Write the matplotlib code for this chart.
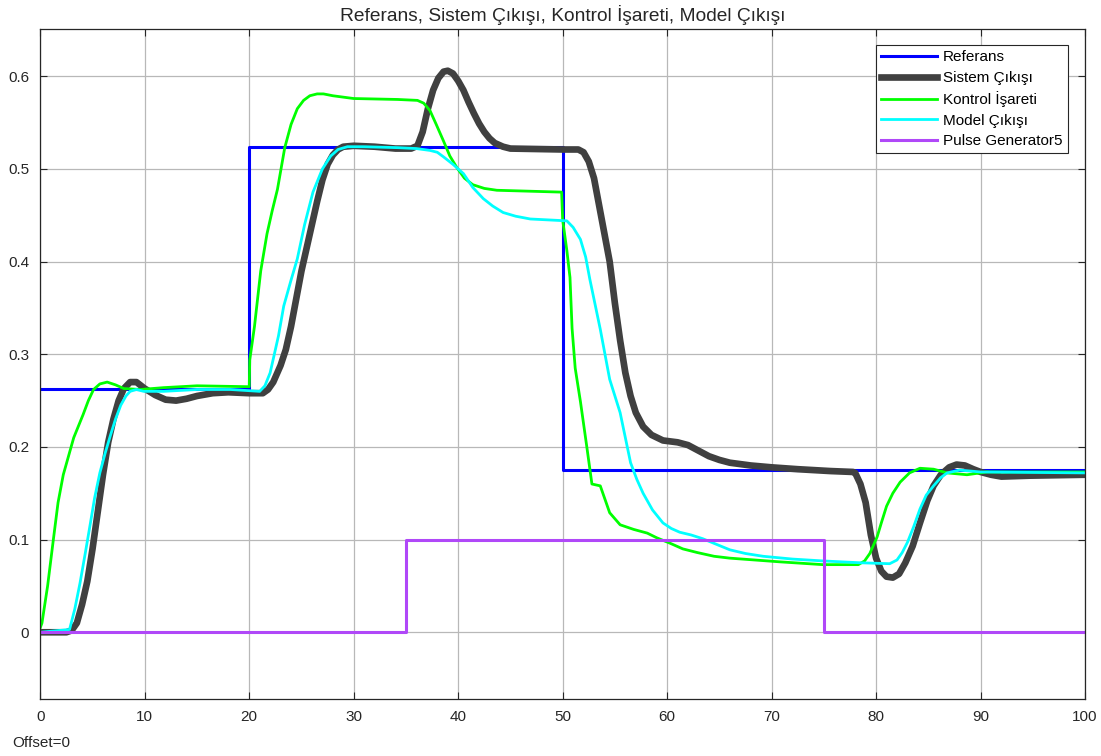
import matplotlib
matplotlib.use("Agg")
import matplotlib.pyplot as plt

plt.rcParams["font.family"] = ["Liberation Sans", "DejaVu Sans"]

# ── data ────────────────────────────────────────────────────────────────────
ref_t = [0, 20, 50, 100]
ref_v = [0.262, 0.524, 0.175, 0.175]

sys_t = [0, 2.5, 3, 3.5, 4, 4.5, 5, 5.5, 6, 6.5, 7, 7.5, 8, 8.6, 9.2, 10, 11,
         12, 13, 14, 15, 16.5, 18, 20, 21.3, 21.8, 22.3, 23, 23.5, 24, 24.5,
         25, 25.5, 26, 26.5, 27, 27.5, 28, 28.5, 29, 30, 32, 34, 35.5, 36.1,
         36.6, 37.1, 37.6, 38.1, 38.6, 39, 39.5, 40, 40.5, 41, 41.5, 42, 42.5,
         43, 43.5, 44.3, 45, 50, 51.5, 52, 52.5, 53, 53.5, 54, 54.5, 55, 55.5,
         56, 56.5, 57, 57.7, 58.5, 59.6, 61, 62, 63, 64, 65, 66, 68, 70, 72.5,
         75.6, 77.8, 78, 78.5, 79, 79.5, 80, 80.5, 81, 81.6, 82.2, 82.8, 83.5,
         84.2, 84.9, 85.5, 86.2, 87, 87.7, 88.5, 89.3, 90, 91, 92, 94.7, 100]
sys_v = [0.0, 0.0, 0.002, 0.01, 0.03, 0.055, 0.09, 0.13, 0.17, 0.205, 0.23,
         0.25, 0.263, 0.27, 0.27, 0.263, 0.256, 0.251, 0.25, 0.252, 0.255,
         0.258, 0.259, 0.258, 0.258, 0.262, 0.27, 0.288, 0.305, 0.33, 0.36,
         0.39, 0.415, 0.44, 0.465, 0.488, 0.505, 0.515, 0.521, 0.524, 0.525,
         0.524, 0.522, 0.522, 0.525, 0.54, 0.565, 0.585, 0.598, 0.605, 0.606,
         0.603, 0.595, 0.585, 0.572, 0.56, 0.549, 0.54, 0.533, 0.528, 0.524,
         0.522, 0.521, 0.521, 0.518, 0.508, 0.49, 0.46, 0.43, 0.40, 0.355,
         0.315, 0.28, 0.255, 0.237, 0.222, 0.213, 0.207, 0.205, 0.202, 0.196,
         0.19, 0.186, 0.183, 0.18, 0.178, 0.176, 0.174, 0.173, 0.172, 0.16,
         0.14, 0.105, 0.08, 0.066, 0.06, 0.059, 0.063, 0.075, 0.093, 0.118,
         0.142, 0.158, 0.17, 0.178, 0.181, 0.18, 0.176, 0.173, 0.17, 0.168,
         0.169, 0.170]

ctl_t = [0, 0.16, 0.7, 1.25, 1.7, 2.2, 2.7, 3.2, 4.1, 4.6, 5.1, 5.7, 6.4, 7.2,
         8, 9.6, 11.8, 15, 20, 20.05, 20.5, 21.1, 21.7, 22.2, 22.7, 23.4, 24,
         24.6, 25.2, 25.8, 26.5, 27.1, 28, 30, 34.2, 36.1, 36.7, 37.3, 37.9,
         38.6, 39.2, 39.9, 40.6, 41.4, 42.5, 43.7, 49.9, 50.0, 50.4, 50.7,
         50.9, 51.2, 51.7, 52.3, 52.8, 53.6, 54.5, 55.5, 56.8, 58.1, 59.0,
         60.3, 61.5, 62.9, 64.5, 66, 70.8, 74.9, 78.3, 78.9, 79.4, 80.1, 80.5,
         81, 81.6, 82.3, 83.2, 84.2, 85.5, 86.8, 88.7, 90.6, 100]
ctl_v = [0.005, 0.01, 0.05, 0.1, 0.14, 0.17, 0.19, 0.21, 0.235, 0.25, 0.262,
         0.268, 0.27, 0.267, 0.263, 0.262, 0.264, 0.266, 0.265, 0.294, 0.33,
         0.39, 0.43, 0.455, 0.478, 0.523, 0.548, 0.565, 0.574, 0.579, 0.581,
         0.581, 0.579, 0.576, 0.575, 0.574, 0.571, 0.563, 0.548, 0.53, 0.514,
         0.501, 0.49, 0.483, 0.479, 0.477, 0.475, 0.445, 0.412, 0.383, 0.328,
         0.285, 0.249, 0.201, 0.16, 0.158, 0.129, 0.116, 0.111, 0.107, 0.102,
         0.096, 0.09, 0.086, 0.082, 0.08, 0.076, 0.073, 0.073, 0.077, 0.085,
         0.103, 0.118, 0.136, 0.15, 0.162, 0.172, 0.177, 0.176, 0.172, 0.17,
         0.173, 0.173]

mdl_t = [0, 2.8, 3.3, 3.8, 4.3, 4.8, 5.2, 5.7, 6.2, 6.7, 7.2, 7.7, 8.2, 8.6,
         9.2, 9.9, 11.8, 15, 18.2, 21, 21.5, 22, 22.3, 22.8, 23.3, 24, 24.6,
         25.3, 26.1, 27, 27.8, 28.5, 29.4, 30.9, 34.2, 36, 37.3, 38, 38.6,
         39.5, 40.5, 41.4, 42.4, 43.3, 44.3, 45.5, 46.9, 50.4, 51, 51.7, 52.2,
         52.6, 53.6, 54.5, 55.5, 56.5, 57.1, 57.7, 58.6, 59.6, 60.4, 61.2,
         62.3, 63.4, 64.7, 66, 67.5, 69.2, 72, 74.9, 78.5, 81.3, 82, 82.5, 83,
         83.6, 84.2, 84.8, 85.5, 86.2, 86.8, 88, 90, 100]
mdl_v = [0.0, 0.003, 0.025, 0.053, 0.085, 0.118, 0.145, 0.172, 0.193, 0.212,
         0.23, 0.245, 0.255, 0.26, 0.262, 0.26, 0.26, 0.262, 0.262, 0.26,
         0.266, 0.28, 0.295, 0.32, 0.352, 0.38, 0.403, 0.44, 0.475, 0.5,
         0.514, 0.521, 0.524, 0.524, 0.523, 0.522, 0.52, 0.518, 0.513, 0.505,
         0.495, 0.48, 0.468, 0.46, 0.453, 0.449, 0.446, 0.444, 0.437, 0.424,
         0.405, 0.381, 0.327, 0.273, 0.237, 0.183, 0.165, 0.15, 0.132, 0.118,
         0.112, 0.108, 0.105, 0.101, 0.095, 0.089, 0.085, 0.082, 0.079, 0.077,
         0.075, 0.074, 0.078, 0.086, 0.097, 0.114, 0.133, 0.148, 0.158, 0.167,
         0.172, 0.175, 0.173, 0.172]

pulse_t = [0, 35, 75, 100]
pulse_v = [0, 0.1, 0, 0]

labels = ["Referans", "Sistem Çıkışı", "Kontrol İşareti", "Model Çıkışı",
          "Pulse Generator5"]

# ── figure ───────────────────────────────────────────────────────────────────
fig = plt.figure(figsize=(11.01, 7.56), dpi=100)
ax = fig.add_axes([0.0366, 0.0754, 0.9489, 0.8862])

ax.plot(ref_t, ref_v, color="#0000ff", lw=2.2, drawstyle="steps-post", label=labels[0])
ax.plot(sys_t, sys_v, color="#404040", lw=4.8, label=labels[1],
        solid_joinstyle="round")
ax.plot(ctl_t, ctl_v, color="#00ff00", lw=2.0, label=labels[2])
ax.plot(mdl_t, mdl_v, color="#00ffff", lw=2.0, label=labels[3])
ax.plot(pulse_t, pulse_v, color="#b048f8", lw=2.2, drawstyle="steps-post", label=labels[4])

ax.set_xlim(0, 100)
ax.set_ylim(-0.072, 0.651)
ax.set_xticks(range(0, 101, 10))
ax.set_yticks([0, 0.1, 0.2, 0.3, 0.4, 0.5, 0.6])
ax.set_yticklabels(["0", "0.1", "0.2", "0.3", "0.4", "0.5", "0.6"])
ax.grid(True, color="#b8b8b8", lw=0.9)
ax.set_axisbelow(True)
ax.tick_params(direction="in", top=True, right=True, length=5, labelsize=11,
               colors="#262626", pad=8)
for s in ax.spines.values():
    s.set_color("#262626")
    s.set_linewidth(0.9)

ax.set_title("Referans, Sistem Çıkışı, Kontrol İşareti, Model Çıkışı",
             fontsize=13.8, color="#262626", pad=6)

leg = ax.legend(loc="upper right", fontsize=11, frameon=True, fancybox=False,
                handlelength=3.66, handletextpad=0.4, borderpad=0.35,
                labelspacing=0.42, borderaxespad=0,
                bbox_to_anchor=(0.9837, 0.976))
leg.get_frame().set_edgecolor("#262626")
leg.get_frame().set_linewidth(0.8)
leg.get_frame().set_alpha(1.0)

fig.text(12 / 1101, 1 - 743 / 756, "Offset=0", fontsize=11, color="#262626",
         va="center", ha="left")

fig.savefig("out.png", dpi=100)
